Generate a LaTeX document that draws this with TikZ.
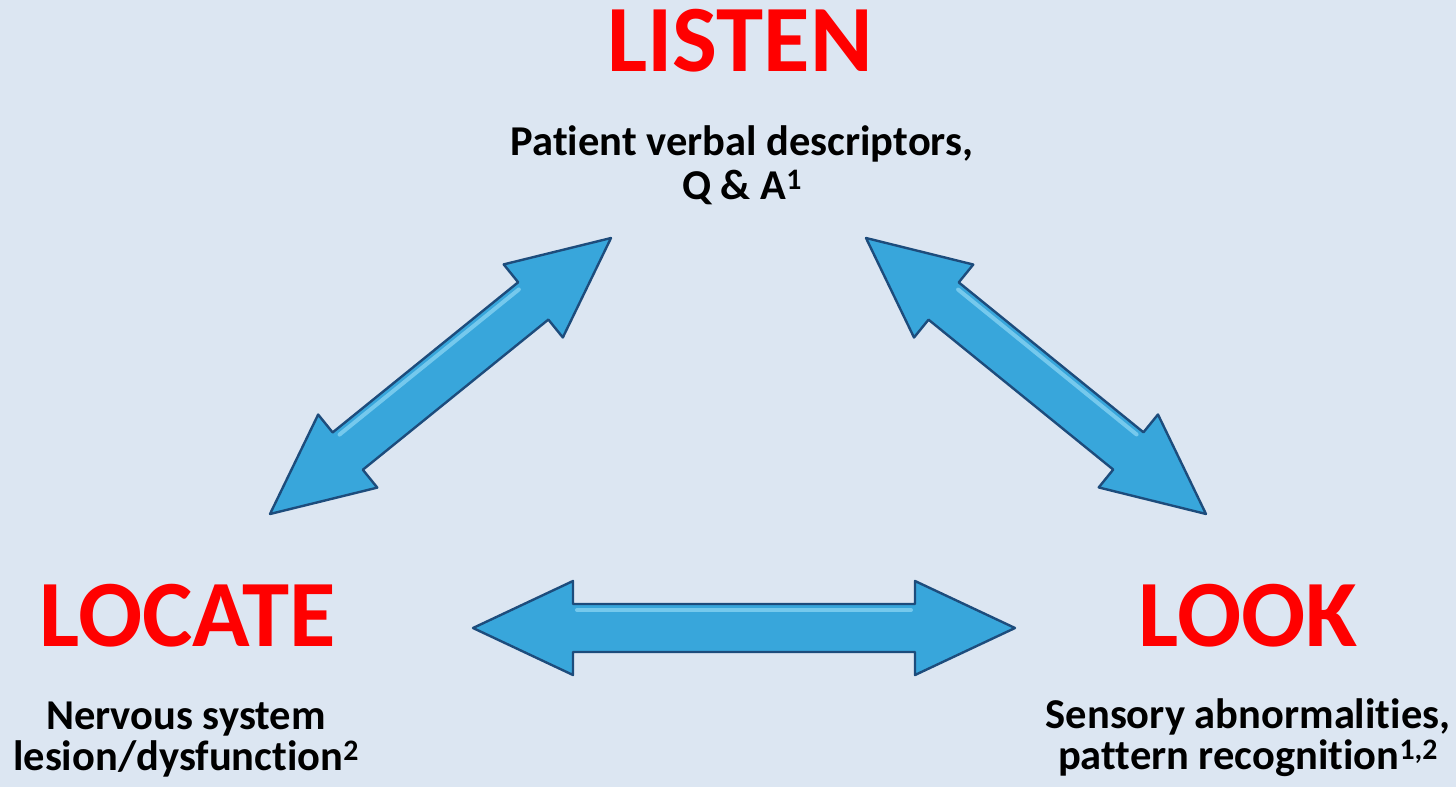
\documentclass[tikz,border=0pt]{standalone}
\usepackage{fontspec}
\setmainfont{Carlito}[Ligatures=NoCommon]
\usetikzlibrary{calc}
\definecolor{bg}{HTML}{DCE6F2}
\definecolor{arrowfill}{HTML}{38A6DB}
\definecolor{arrowedge}{HTML}{1D4C7C}
\definecolor{arrowhi}{HTML}{8FD8F6}
\definecolor{labelred}{HTML}{FF0000}
\newcommand\fahl{100}
\newcommand\fahw{47}
\newcommand\fasw{24}
\newcommand\fatarrow[2]{%
  \pgfmathanglebetweenpoints{\pgfpointanchor{#1}{center}}{\pgfpointanchor{#2}{center}}%
  \let\faang\pgfmathresult
  \pgfpointdiff{\pgfpointanchor{#1}{center}}{\pgfpointanchor{#2}{center}}%
  \pgfgetlastxy{\fadx}{\fady}%
  \pgfmathveclen{\fadx}{\fady}%
  \let\falen\pgfmathresult
  \begin{scope}[shift={(#1)}, rotate=\faang, x=1pt, y=1pt]
    \path[arrowbody] (0,0) -- (\fahl,\fahw) -- (\fahl,\fasw) -- (\falen-\fahl,\fasw)
      -- (\falen-\fahl,\fahw) -- (\falen,0) -- (\falen-\fahl,-\fahw)
      -- (\falen-\fahl,-\fasw) -- (\fahl,-\fasw) -- (\fahl,-\fahw) -- cycle;
    \draw[arrowshine] (\fahl+4,\fasw-6) -- (\falen-\fahl-4,\fasw-6);
  \end{scope}}
\tikzset{
  arrowbody/.style={fill=arrowfill, draw=arrowedge, line width=2.4pt, line join=round},
  arrowshine/.style={draw=arrowhi, line width=4pt, line cap=round, opacity=0.7},
  biglabel/.style={text=labelred, font=\fontsize{95}{100}\selectfont\bfseries, inner sep=0pt, anchor=base},
  sublabel/.style={font=\fontsize{42.5}{44}\selectfont\bfseries, align=center, inner sep=0pt, anchor=base},
  sublabeltight/.style={sublabel, font=\fontsize{42.5}{41}\selectfont\bfseries}
}
\begin{document}
\begin{tikzpicture}[x=1pt,y=-1pt]
  \useasboundingbox (0,0) rectangle (1456,787);
  \fill[bg] (0,0) rectangle (1456,787);

  \node[biglabel] (listen) at (740,71) {LISTEN};
  \node[sublabel] (listentxt) at (742,199) {Patient verbal descriptors,\\ Q \& A\textsuperscript{1}};
  \node[biglabel] (locate) at (188,646) {LOCATE};
  \node[sublabeltight] (locatetxt) at (186,770) {Nervous system\\ lesion/dysfunction\textsuperscript{2}};
  \node[biglabel] (look) at (1248,646) {LOOK};
  \node[sublabeltight] (looktxt) at (1248,769) {Sensory abnormalities,\\ pattern recognition\textsuperscript{1,2}};

  \coordinate (ldA) at (270,514);
  \coordinate (ldB) at (611,238);
  \coordinate (rdA) at (866,238);
  \coordinate (rdB) at (1206,514);
  \coordinate (hzA) at (473,628);
  \coordinate (hzB) at (1015,628);

  \fatarrow{ldA}{ldB}
  \fatarrow{rdA}{rdB}
  \fatarrow{hzA}{hzB}
\end{tikzpicture}
\end{document}
